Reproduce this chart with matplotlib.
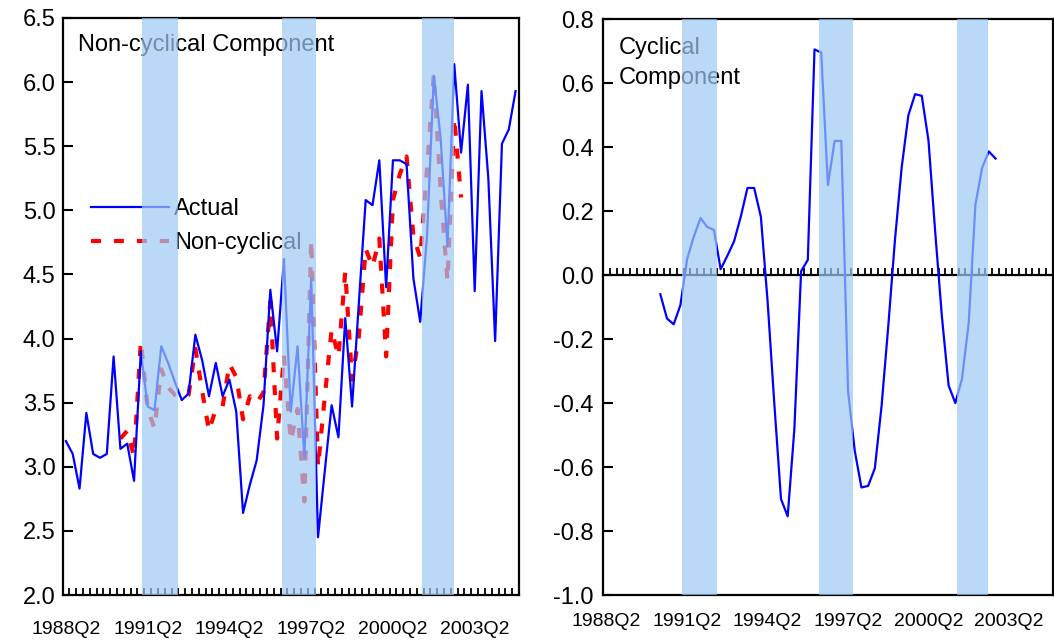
"""Non-cyclical vs. cyclical component figure, two panels, quarterly 1988Q2-2004Q4."""
import numpy as np
import pandas as pd
import matplotlib
matplotlib.use("Agg")
import matplotlib.pyplot as plt
from matplotlib.ticker import FixedLocator, FuncFormatter

plt.rcParams["font.family"] = ["Liberation Sans", "DejaVu Sans"]
plt.rcParams["axes.unicode_minus"] = False

# ---- data ----
QUARTERS = [str(p) for p in pd.period_range("1988Q2", "2004Q4", freq="Q")]

ACTUAL = [3.20, 3.10, 2.83, 3.42, 3.10, 3.07, 3.10, 3.86, 3.14, 3.18,
          2.89, 3.90, 3.47, 3.44, 3.94, 3.81, 3.66, 3.52, 3.57, 4.03,
          3.83, 3.55, 3.81, 3.55, 3.68, 3.43, 2.64, 2.86, 3.05, 3.48,
          4.38, 3.90, 4.62, 3.43, 3.94, 3.07, 4.47, 2.45, 2.97, 3.48,
          3.23, 4.16, 3.47, 4.28, 5.08, 5.04, 5.39, 4.40, 5.39, 5.39,
          5.36, 4.47, 4.13, 4.80, 6.05, 5.56, 4.72, 6.14, 5.45, 5.98,
          4.37, 5.93, 5.25, 3.98, 5.52, 5.63, 5.93]

# components only exist 1990Q2 .. 2002Q4
COMPONENT_START = "1990Q2"
NONCYCLICAL = [3.22, 3.28, 3.08, 3.98, 3.45, 3.30, 3.76, 3.62, 3.56, 3.55,
               3.56, 3.92, 3.59, 3.28, 3.45, 3.47, 3.80, 3.70, 3.37, 3.55,
               3.50, 3.58, 4.29, 3.22, 3.87, 3.20, 3.45, 2.73, 4.77, 3.00,
               3.55, 4.07, 3.86, 4.52, 3.68, 4.02, 4.70, 4.56, 4.78, 3.86,
               5.08, 5.28, 5.42, 4.80, 4.63, 5.32, 6.06, 5.15, 4.45, 5.72,
               5.10]
CYCLICAL = [-0.060, -0.136, -0.154, -0.094, 0.050, 0.120, 0.178, 0.150, 0.141, 0.018,
            0.060, 0.105, 0.182, 0.272, 0.272, 0.182, -0.081, -0.400, -0.700, -0.754,
            -0.480, 0.012, 0.047, 0.705, 0.695, 0.281, 0.419, 0.419, -0.363, -0.549,
            -0.664, -0.659, -0.604, -0.410, -0.160, 0.110, 0.336, 0.499, 0.565, 0.560,
            0.420, 0.135, -0.130, -0.345, -0.400, -0.324, -0.150, 0.220, 0.335, 0.386,
            0.364]

# shaded periods, in category units (0 = 1988Q2)
SHADED = [(11.2, 16.45), (31.7, 36.77), (52.2, 56.9)]

LABEL_STEP = 12

BLUE = "#0000ff"
RED = "#ff0000"
SHADE = "#9ccaf5"
FS_XTICK = 14
FS_YTICK = 17
FS_TEXT = 17


def fmt1(v, _pos):
    return f"{round(v, 1) + 0.0:.1f}"


def style_axes(ax, ylim, ystep, xpad, ypad):
    n = len(QUARTERS)
    ax.set_xlim(-0.5, n - 0.5)
    ax.set_ylim(*ylim)
    ax.yaxis.set_major_locator(FixedLocator(np.arange(ylim[0], ylim[1] + 1e-9, ystep)))
    ax.yaxis.set_major_formatter(FuncFormatter(fmt1))
    ax.tick_params(axis="y", direction="in", length=7, width=1.5, labelsize=FS_YTICK, pad=ypad)
    idx = list(range(0, n, LABEL_STEP))
    ax.set_xticks(idx)
    ax.set_xticklabels([QUARTERS[i] for i in idx])
    ax.tick_params(axis="x", which="major", length=0, labelsize=FS_XTICK, pad=xpad)
    for sp in ax.spines.values():
        sp.set_linewidth(1.6)
    for a, b in SHADED:
        ax.axvspan(a, b, color=SHADE, alpha=0.7, lw=0, zorder=10)


fig = plt.figure(figsize=(10.54, 6.42), dpi=100)
axL = fig.add_axes([0.0593, 0.0732, 0.4331, 0.8988])
axR = fig.add_axes([0.5724, 0.0732, 0.4262, 0.8972])

x_all = np.arange(len(QUARTERS))
s = QUARTERS.index(COMPONENT_START)
x_comp = np.arange(s, s + len(NONCYCLICAL))

# (left) actual vs non-cyclical
axL.plot(x_all, ACTUAL, color=BLUE, lw=1.6, label="Actual", zorder=3)
axL.plot(x_comp, NONCYCLICAL, color=RED, lw=3.0, dashes=(2.4, 3.1),
         dash_capstyle="butt", label="Non-cyclical", zorder=2)
style_axes(axL, (2.0, 6.5), 0.5, xpad=19, ypad=5)
axL.xaxis.set_minor_locator(FixedLocator(np.arange(0.5, len(QUARTERS) - 1, 1)))
axL.tick_params(axis="x", which="minor", direction="in", length=5, width=1.3)
axL.text(0.034, 0.953, "Non-cyclical Component", transform=axL.transAxes,
         fontsize=FS_TEXT, ha="left", va="center", zorder=3)
axL.legend(loc="upper left", bbox_to_anchor=(0.0625, 0.688), frameon=False,
           fontsize=FS_TEXT, handlelength=3.3, handletextpad=0.2,
           labelspacing=0.5, borderpad=0, borderaxespad=0)

# (right) cyclical component
axR.plot(x_comp, CYCLICAL, color=BLUE, lw=1.6, zorder=3)
style_axes(axR, (-1.0, 0.8), 0.2, xpad=13, ypad=7)
zero = axR.secondary_xaxis(0.0, transform=axR.transData)
zero.set_xticks(np.arange(0.5, len(QUARTERS) - 1, 1))
zero.tick_params(direction="in", length=5, width=1.3, labelbottom=False, labeltop=False)
for sp in zero.spines.values():
    sp.set_linewidth(1.6)
axR.text(0.035, 0.969, "Cyclical\nComponent", transform=axR.transAxes,
         fontsize=FS_TEXT, ha="left", va="top", linespacing=1.45, zorder=3)

fig.savefig("out.png", dpi=100)
